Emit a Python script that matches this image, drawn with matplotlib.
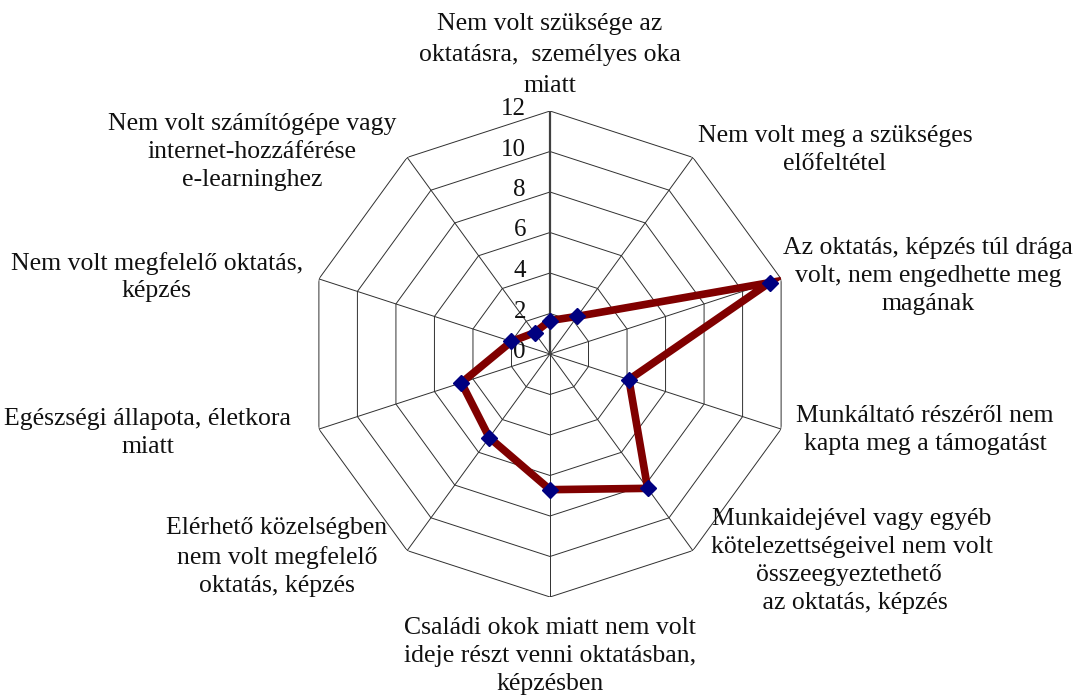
import matplotlib.pyplot as plt
import numpy as np

categories = [
    "Nem volt szüksége az\noktatásra,  személyes oka\nmiatt",
    "Nem volt meg a szükséges\nelőfeltétel",
    "Az oktatás, képzés túl drága\nvolt, nem engedhette meg\nmagának",
    "Munkáltató részéről nem\nkapta meg a támogatást",
    "Munkaidejével vagy egyéb\nkötelezettségeivel nem volt\nösszeegyeztethető \n az oktatás, képzés",
    "Családi okok miatt nem volt\nideje részt venni oktatásban,\nképzésben",
    "Elérhető közelségben\nnem volt megfelelő\noktatás, képzés",
    "Egészségi állapota, életkora\nmiatt",
    "Nem volt megfelelő oktatás,\nképzés",
    "Nem volt számítógépe vagy\ninternet-hozzáférése\ne-learninghez",
]
values = [1.65, 2.3, 11.4, 4.1, 8.2, 6.7, 5.1, 4.6, 2.0, 1.3]
ticks = [0, 2, 4, 6, 8, 10, 12]

# label block centres in pixels (x, y from top)
label_pos = [(550, 55), (835, 150), (928, 276), (925, 430), (852, 561),
             (550, 656), (277, 557), (148, 433), (157, 277), (252, 152)]

W, H = 1080, 695
plt.rcParams['font.family'] = ['Liberation Serif', 'DejaVu Serif']

fig = plt.figure(figsize=(W / 100, H / 100), dpi=100)
cx, cy, R = 550, 354, 243
ax = fig.add_axes([(cx - R) / W, (H - cy - R) / H, 2 * R / W, 2 * R / H],
                  projection='polar')
ax.set_theta_offset(np.pi / 2)
ax.set_theta_direction(-1)
ax.set_ylim(0, 12)
ax.set_xticks([])
ax.set_yticks([])
ax.grid(False)
ax.spines['polar'].set_visible(False)
ax.patch.set_visible(False)

n = len(categories)
angles = np.arange(n) * 2 * np.pi / n
closed = np.append(angles, angles[0])

# polygon grid
for r in ticks[1:]:
    ax.plot(closed, [r] * (n + 1), color='#303030', lw=0.7, zorder=1)
for a in angles[1:]:
    ax.plot([a, a], [0, 12], color='#303030', lw=0.7, zorder=1)
ax.plot([0, 0], [0, 12], color='#404040', lw=1.6, zorder=1)

# value labels
for t in ticks:
    ax.annotate(str(t), xy=(0, t), xytext=(-24, 2), textcoords='offset pixels',
                ha='right', va='center', fontsize=18, color='#111111')

# data
vals = np.append(values, values[0])
ax.plot(closed, vals, color='#800000', lw=5.5, zorder=3, solid_joinstyle='miter')
ax.plot(angles, values, linestyle='none', marker='D', markersize=8,
        color='#000080', zorder=4)

for i, (lab, (x, y)) in enumerate(zip(categories, label_pos)):
    fig.text(x / W, 1 - y / H, lab, ha='center', va='center', fontsize=18.5,
             linespacing=1.55 if i == 0 else 1.35, color='#111111')

fig.savefig('out.png', dpi=100)
